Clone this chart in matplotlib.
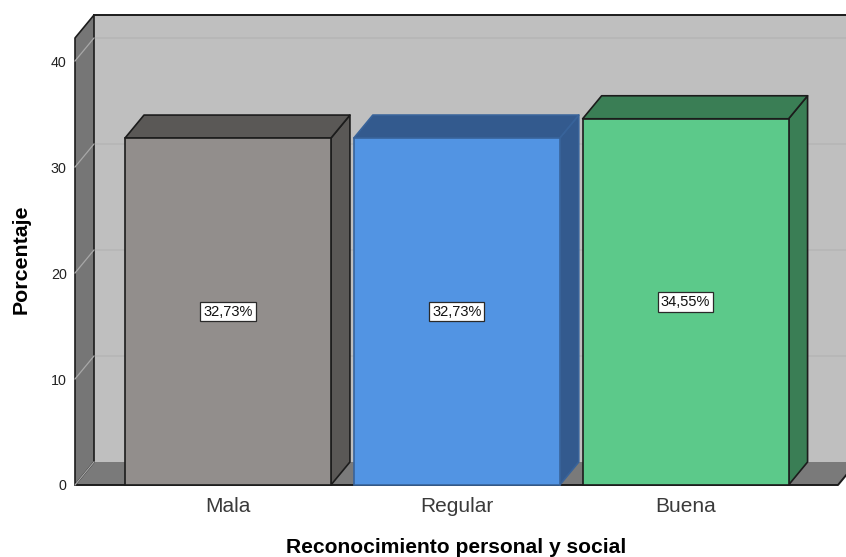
import matplotlib
matplotlib.use("Agg")
import matplotlib.pyplot as plt
from matplotlib.patches import Polygon

categories = ["Mala", "Regular", "Buena"]
values = [32.73, 32.73, 34.55]
yticks = [0, 10, 20, 30, 40]
front_colors = ["#928E8C", "#5294E3", "#5CC98A"]
side_colors = ["#5A5856", "#335A8E", "#3A7E55"]
edge_colors = ["#1c1c1c", "#38639A", "#1c1c1c"]

plt.rcParams["font.family"] = ["Liberation Sans", "DejaVu Sans"]

W, H = 846, 557
fig = plt.figure(figsize=(W / 100, H / 100), dpi=100, facecolor="white")
ax = fig.add_axes([75 / W, (H - 485) / H, (838 - 75) / W, (485 - 38) / H])
ax.set_facecolor("none")

XMIN, XMAX = -0.6685, 2.666
YMAX = 42.17
ax.set_xlim(XMIN, XMAX)
ax.set_ylim(0, YMAX)

# depth of the pseudo-3D box, in data units
DX = 19 / 228.8
DY = 23 / 10.6
BAR_W = 0.9
EDGE = "#1c1c1c"


def poly(pts, fc, ec=EDGE, lw=1.2, z=1):
    ax.add_patch(Polygon(pts, closed=True, facecolor=fc, edgecolor=ec,
                         linewidth=lw, zorder=z, clip_on=False, joinstyle="round"))


# back wall, left wall, floor
poly([(XMIN + DX, DY), (XMAX + DX, DY), (XMAX + DX, YMAX + DY), (XMIN + DX, YMAX + DY)],
     "#BFBFBF", ec="none", lw=0, z=1)
poly([(XMIN, 0), (XMIN + DX, DY), (XMIN + DX, YMAX + DY), (XMIN, YMAX)], "#767676", z=3)
poly([(XMIN, 0), (XMAX, 0), (XMAX + DX, DY), (XMIN + DX, DY)], "#7A7A7A", ec="none", lw=0, z=2)

# top edge of back wall and floor outlines
ax.plot([XMIN + DX, XMAX + DX], [YMAX + DY] * 2, color=EDGE, lw=1.4, zorder=4, clip_on=False)
ax.plot([XMIN, XMAX, XMAX + DX], [0, 0, DY], color=EDGE, lw=1.4, zorder=4, clip_on=False)

# gridlines
for t in yticks:
    if t > 0:
        ax.plot([XMIN + DX, XMAX + DX], [t + DY] * 2, color="#B6B6B6", lw=1.2, zorder=2, clip_on=False)
    ax.plot([XMIN, XMIN + DX], [t, t + DY], color="#A8A8A8", lw=0.9, zorder=4, clip_on=False)

# bars
for i, (v, fc, sc, ec) in enumerate(zip(values, front_colors, side_colors, edge_colors)):
    l, r = i - BAR_W / 2, i + BAR_W / 2
    base = 5 + i * 2
    poly([(r, 0), (r + DX, DY), (r + DX, v + DY), (r, v)], sc, ec=ec, z=base)
    poly([(l, v), (r, v), (r + DX, v + DY), (l + DX, v + DY)], sc, ec=ec, z=base)
    ax.bar(i, v, width=BAR_W, color=fc, edgecolor=ec, linewidth=1.2, zorder=base + 1, clip_on=False)
    ax.text(i, v / 2, f"{v:.2f}".replace(".", ",") + "%", ha="center", va="center",
            fontsize=10.5, color="#111111", zorder=30,
            bbox=dict(boxstyle="square,pad=0.2", facecolor="white", edgecolor="#2a2a2a", linewidth=0.9))

for s in ax.spines.values():
    s.set_visible(False)
ax.set_xticks(range(len(categories)), categories)
ax.set_yticks(yticks)
ax.tick_params(axis="both", length=0)
ax.tick_params(axis="x", labelsize=15, pad=9, labelcolor="#3a3a3a")
ax.tick_params(axis="y", labelsize=10.3, pad=6, labelcolor="#222222")
ax.set_xlabel("Reconocimiento personal y social", fontsize=15.1, fontweight="bold")
ax.set_ylabel("Porcentaje", fontsize=15.4, fontweight="bold")
ax.yaxis.set_label_coords((21.5 - 75) / 763, (485 - 259) / 447)
ax.xaxis.set_label_coords((456 - 75) / 763, (485 - 547.5) / 447)
ax.xaxis.label.set_verticalalignment("center")
ax.yaxis.label.set_verticalalignment("center")

fig.savefig("out.png", dpi=100)
